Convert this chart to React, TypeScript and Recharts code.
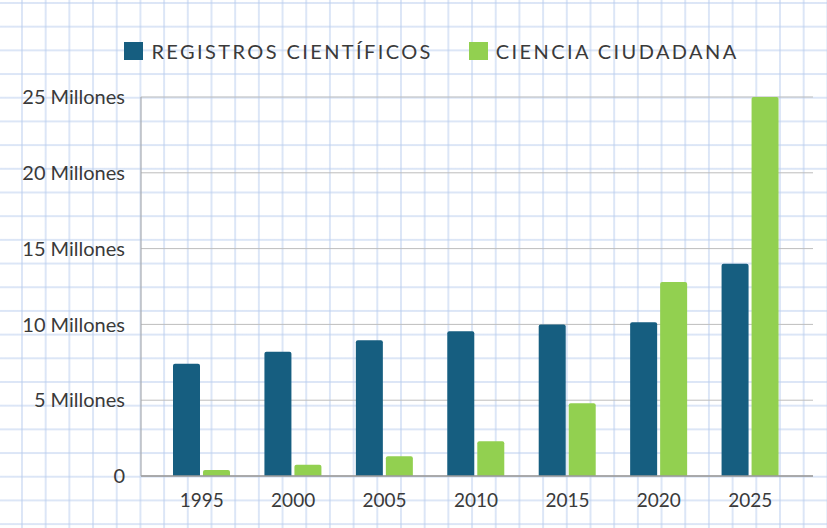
import React from "react";
import { BarChart, Bar, XAxis, YAxis, CartesianGrid, Legend } from "recharts";

const years = ["1995", "2000", "2005", "2010", "2015", "2020", "2025"];
const registros = [7.4, 8.2, 8.95, 9.55, 10.0, 10.15, 14.0];
const ciudadana = [0.4, 0.75, 1.3, 2.3, 4.8, 12.8, 25.0];
const yTicks = [0, 5, 10, 15, 20, 25];

const BLUE = "#165e80";
const GREEN = "#92d050";
const FONT = "Lato, 'Noto Sans', sans-serif";
const TEXT = "#3a3a3a";

const data = years.map((year, i) => ({
  year,
  registros: registros[i],
  ciudadana: ciudadana[i],
}));

const legendItems = [
  { label: "REGISTROS CIENTÍFICOS", color: BLUE },
  { label: "CIENCIA CIUDADANA", color: GREEN },
];

function PaperLegend() {
  return (
    <div
      style={{
        height: 67,
        display: "flex",
        justifyContent: "center",
        alignItems: "flex-start",
        paddingLeft: 50,
        fontFamily: FONT,
      }}
    >
      {legendItems.map((item) => (
        <div
          key={item.label}
          style={{ display: "flex", alignItems: "center", margin: "11px 18px 0" }}
        >
          <span
            style={{
              width: 19,
              height: 18,
              background: item.color,
              display: "inline-block",
              marginRight: 8,
            }}
          />
          <span
            style={{
              fontSize: 20,
              color: TEXT,
              letterSpacing: 2.4,
              lineHeight: "20px",
            }}
          >
            {item.label}
          </span>
        </div>
      ))}
    </div>
  );
}

const formatY = (v: number) => (v === 0 ? "0" : `${v} Millones`);

export default function App() {
  const paper = {
    position: "absolute" as const,
    top: 0,
    left: 0,
    width: 827,
    height: 528,
    backgroundColor: "#ffffff",
    backgroundImage:
      "linear-gradient(to right, rgba(185,205,238,0.5) 2px, transparent 2px), linear-gradient(to bottom, rgba(185,205,238,0.5) 2px, transparent 2px)",
    backgroundSize: "23.7px 23.7px",
    backgroundPosition: "21px 2px",
  };

  return (
    <div style={paper}>
      <BarChart
        width={827}
        height={528}
        data={data}
        margin={{ top: 30, right: 14, left: 0, bottom: 22 }}
        barSize={27}
        barGap={3}
      >
        <Legend verticalAlign="top" content={() => <PaperLegend />} />
        <CartesianGrid vertical={false} stroke="#bdbdbd" strokeWidth={1} />
        <XAxis
          dataKey="year"
          padding={{ left: 15, right: 17 }}
          tickLine={false}
          axisLine={{ stroke: "#9a9a9a", strokeWidth: 1.5 }}
          tick={{ fill: TEXT, fontSize: 19, fontFamily: FONT }}
          tickMargin={12}
        />
        <YAxis
          width={141}
          domain={[0, 25]}
          ticks={yTicks}
          tickFormatter={formatY}
          tickLine={false}
          axisLine={{ stroke: "#a5a5a5" }}
          tick={{ fill: TEXT, fontSize: 20, fontFamily: FONT }}
          tickMargin={10}
        />
        <Bar
          dataKey="registros"
          name="Registros científicos"
          fill={BLUE}
          radius={[2, 2, 0, 0]}
          isAnimationActive={false}
        />
        <Bar
          dataKey="ciudadana"
          name="Ciencia ciudadana"
          fill={GREEN}
          radius={[2, 2, 0, 0]}
          isAnimationActive={false}
        />
      </BarChart>
    </div>
  );
}
